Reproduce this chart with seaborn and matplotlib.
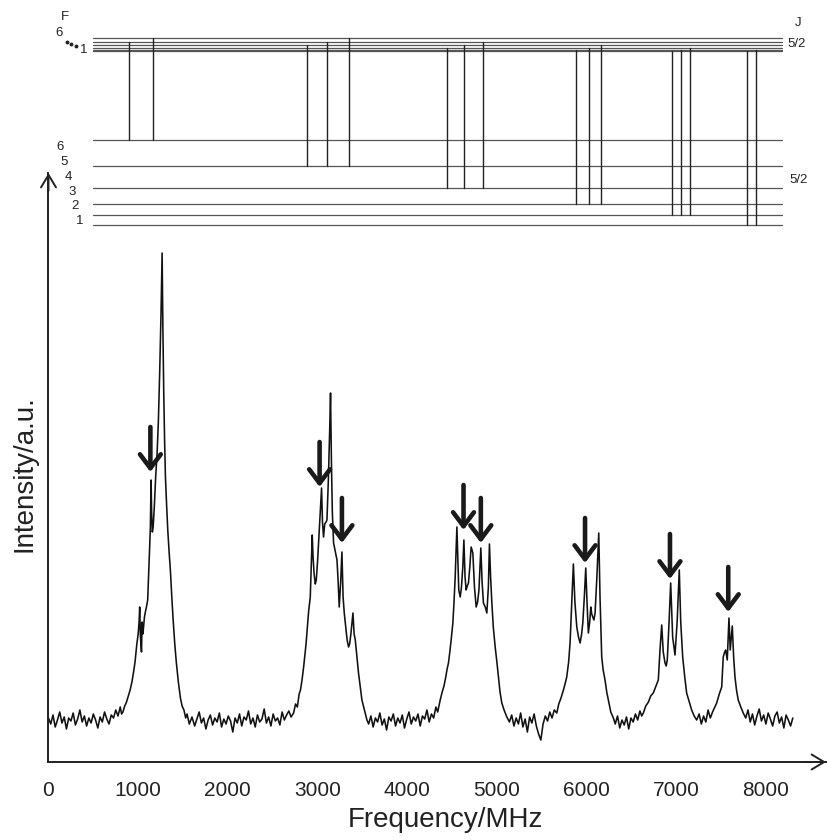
import numpy as np
import pandas as pd
import matplotlib
matplotlib.use('Agg')
import matplotlib.pyplot as plt
import seaborn as sns

sns.set_style('white')
plt.rcParams['font.family'] = ['Liberation Sans', 'DejaVu Sans']

# ---------------- spectrum ----------------
freq_base0 = [0, 25, 50, 75, 100, 125, 150, 175, 200, 225, 250, 275, 300, 325, 350, 375, 400, 425,
              450, 475, 500, 525, 550, 575, 600, 625, 650, 675, 700, 725, 750, 775, 800, 815]
int_base0 = [44, 38, 47, 35, 42, 50, 39, 45, 33, 44, 41, 49, 37, 43, 52, 40, 46, 36,
             44, 39, 48, 42, 34, 45, 40, 50, 43, 38, 47, 44, 52, 46, 55, 48]

freq_g1 = [830, 850, 870, 890, 910, 930, 947, 965, 985, 1000, 1010, 1017, 1024, 1030, 1037, 1044, 1052,
           1060, 1070, 1080, 1092, 1106, 1118, 1128, 1136, 1144, 1150, 1158, 1167, 1180, 1195, 1211,
           1225, 1240, 1255, 1267, 1276, 1285, 1295, 1304, 1318, 1330, 1345, 1359, 1375, 1390, 1408,
           1426, 1448, 1471, 1490, 1510, 1530, 1545]
int_g1 = [50, 56, 60, 66, 72, 80, 89, 100, 118, 128, 140, 155, 128, 118, 110, 140, 128,
          135, 145, 150, 155, 162, 190, 215, 235, 282, 250, 230, 235, 255, 285, 309,
          340, 390, 450, 509, 430, 370, 320, 285, 255, 232, 210, 192, 165, 142, 118,
          99, 80, 64, 56, 52, 44, 48]

freq_base1 = [1570, 1600, 1630, 1655, 1680, 1705, 1730, 1755, 1780, 1805, 1830, 1855, 1880, 1905, 1930,
              1955, 1980, 2005, 2030, 2055, 2080, 2105, 2130, 2155, 2180, 2205, 2230, 2255, 2280, 2305,
              2330, 2355, 2380, 2405, 2430, 2455, 2480, 2505, 2530, 2555, 2580, 2605, 2630, 2655, 2680, 2705]
int_base1 = [38, 45, 36, 43, 50, 39, 44, 33, 42, 47, 37, 44, 40, 49, 35,
             43, 38, 46, 41, 30, 44, 39, 48, 36, 45, 42, 51, 38, 44, 35,
             47, 40, 43, 53, 39, 45, 36, 48, 41, 44, 37, 50, 42, 47, 51, 45]

freq_g2 = [2733, 2755, 2775, 2795, 2810, 2827, 2845, 2860, 2872, 2882, 2900, 2919, 2930, 2941, 2950,
           2962, 2975, 2986, 3000, 3015, 3030, 3045, 3055, 3067, 3080, 3095, 3105, 3120, 3135, 3145,
           3155, 3165, 3179, 3195, 3217, 3230, 3242, 3258, 3272, 3285, 3298, 3315, 3330, 3346, 3358,
           3372, 3395, 3408, 3421, 3440, 3457, 3475, 3495, 3515, 3535, 3551]
int_g2 = [49, 58, 55, 68, 72, 82, 95, 108, 118, 129, 150, 165, 195, 227, 205,
          188, 178, 182, 200, 225, 250, 274, 240, 225, 238, 240, 242, 280, 330, 369,
          300, 250, 219, 212, 202, 180, 155, 180, 210, 165, 149, 135, 122, 115, 118,
          128, 149, 128, 122, 105, 89, 76, 62, 55, 48, 42]

freq_base2 = [3570, 3595, 3620, 3645, 3670, 3695, 3720, 3745, 3770, 3795, 3820, 3845, 3870, 3895, 3920,
              3945, 3970, 3995, 4020, 4045, 4070, 4095, 4120, 4145, 4170, 4195, 4220, 4245, 4270, 4295,
              4320, 4340]
int_base2 = [38, 46, 35, 44, 40, 49, 37, 43, 32, 45, 41, 48, 36, 44, 39,
             47, 34, 43, 50, 38, 45, 41, 48, 36, 46, 43, 52, 40, 48, 44,
             55, 50]

freq_g3 = [4368, 4390, 4410, 4430, 4445, 4460, 4475, 4490, 4509, 4522, 4535, 4545, 4554, 4565, 4575,
           4591, 4605, 4620, 4632, 4645, 4657, 4670, 4683, 4698, 4713, 4732, 4750, 4769, 4785, 4800,
           4821, 4835, 4850, 4870, 4888, 4905, 4917, 4930, 4944, 4960, 4981, 5000, 5017, 5035, 5055,
           5080, 5111]
int_g3 = [62, 70, 76, 85, 93, 99, 110, 122, 139, 160, 185, 210, 235, 200, 172,
          165, 175, 195, 222, 185, 172, 176, 179, 195, 215, 209, 175, 155, 160, 172,
          214, 180, 159, 155, 149, 175, 218, 185, 159, 135, 115, 100, 85, 70, 59,
          52, 45]

freq_base3 = [5140, 5165, 5190, 5215, 5240, 5265, 5290, 5315, 5340, 5365, 5390, 5415, 5440, 5465, 5490,
              5515, 5540, 5565, 5590, 5615, 5640]
int_base3 = [40, 47, 36, 44, 38, 49, 35, 43, 30, 45, 39, 48, 36, 28, 22,
             38, 46, 41, 50, 44, 52]

freq_g4 = [5668, 5690, 5715, 5742, 5760, 5779, 5800, 5816, 5835, 5853, 5870, 5891, 5910, 5928, 5945,
           5958, 5975, 5991, 6005, 6020, 6035, 6047, 6058, 6069, 6082, 6095, 6115, 6136, 6150, 6169,
           6185, 6206, 6225, 6243, 6270, 6299]
int_g4 = [49, 58, 64, 72, 78, 85, 100, 119, 160, 198, 160, 135, 125, 119, 128,
          139, 165, 194, 160, 129, 140, 155, 148, 145, 142, 149, 185, 229, 165, 105,
          92, 82, 70, 62, 50, 44]

freq_base4 = [6320, 6345, 6370, 6395, 6420, 6445, 6470, 6495, 6520, 6545, 6570, 6595, 6615]
int_base4 = [38, 46, 34, 42, 37, 45, 33, 44, 40, 48, 42, 51, 46]

freq_g5 = [6633, 6660, 6690, 6715, 6744, 6770, 6800, 6819, 6838, 6855, 6875, 6888, 6900, 6920, 6938,
           6960, 6986, 7010, 7034, 7050, 7072, 7095, 7116, 7145, 7172, 7200, 7228]
int_g5 = [49, 56, 60, 66, 69, 75, 82, 112, 137, 110, 99, 96, 102, 140, 179,
          125, 107, 140, 192, 140, 105, 85, 69, 60, 52, 46, 42]

freq_base5 = [7255, 7280, 7305, 7330, 7355, 7380, 7405, 7430]
int_base5 = [48, 38, 46, 40, 52, 44, 50, 55]

freq_g6 = [7451, 7480, 7507, 7524, 7540, 7551, 7569, 7588, 7602, 7625, 7640, 7655, 7672, 7691, 7720, 7747]
int_g6 = [59, 68, 75, 105, 110, 112, 102, 144, 112, 136, 105, 85, 72, 62, 55, 49]

freq_base6 = [7775, 7800, 7825, 7850, 7875, 7900, 7925, 7950, 7975, 8000, 8025, 8050, 8075, 8100,
              8125, 8150, 8175, 8200, 8225, 8250, 8275, 8300]
int_base6 = [44, 52, 40, 48, 37, 46, 53, 41, 47, 38, 49, 43, 36, 46,
             50, 39, 45, 34, 47, 42, 36, 44]

# arrows marking components
arrow_freq = [1136, 3023, 3272, 4628, 4821, 5983, 6930, 7580]
arrow_tip = [290, 275, 219, 232, 219, 199, 183, 150]

# ---------------- level diagram ----------------
lower_F = [1, 2, 3, 4, 5, 6]
lower_E = [0, 10, 21, 37, 59, 85]
upper_F = [1, 2, 3, 4, 5, 6]
upper_E = [174, 175.2, 177.1, 179.7, 183, 187]
trans_freq = [899, 1166, 2886, 3105, 3354, 4442, 4638, 4843, 5880, 6025, 6162, 6956, 7057, 7157, 7792, 7889]
trans_lower = [6, 6, 5, 5, 5, 4, 4, 4, 3, 3, 3, 2, 2, 2, 1, 1]
trans_upper = [5, 6, 4, 5, 6, 3, 4, 5, 2, 3, 4, 1, 2, 3, 1, 2]
level_span = (501, 8178)

# ---------------- figure ----------------
fig = plt.figure(figsize=(8.28, 8.40), dpi=100)
L, B, W, H = 48.5 / 828, 78 / 840, 777.5 / 828, 589 / 840
ax = fig.add_axes([L, B, W, H])

freq = np.concatenate([freq_base0, freq_g1, freq_base1, freq_g2, freq_base2, freq_g3, freq_base3,
                       freq_g4, freq_base4, freq_g5, freq_base5, freq_g6, freq_base6])
inten = np.concatenate([int_base0, int_g1, int_base1, int_g2, int_base2, int_g3, int_base3,
                        int_g4, int_base4, int_g5, int_base5, int_g6, int_base6])
df = pd.DataFrame({'freq': freq, 'intensity': inten})
sns.lineplot(data=df, x='freq', y='intensity', ax=ax, color='#111111', lw=1.15,
             sort=False, estimator=None)

ax.set_xlim(0, 8670)
ax.set_ylim(0, 589)
ax.set_xticks(np.arange(0, 8001, 1000))
ax.set_xticks(np.arange(500, 8600, 1000), minor=True)
ax.set_yticks([])
ax.tick_params(axis='x', which='major', direction='out', length=7, width=1.2, pad=7,
               labelsize=15, colors='#222222')
ax.tick_params(axis='x', which='minor', direction='out', length=3.5, width=1.2)
for s in ['top', 'right']:
    ax.spines[s].set_visible(False)
for s in ['left', 'bottom']:
    ax.spines[s].set_linewidth(1.4)
    ax.spines[s].set_color('#222222')
ax.set_xlabel('Frequency/MHz', fontsize=20, color='#222222')
ax.set_ylabel('Intensity/a.u.', fontsize=20, color='#222222')
ax.xaxis.set_label_coords(0.51, -0.076)
ax.yaxis.set_label_coords(-0.014, 0.489)
ax.patch.set_alpha(0)

# axis arrowheads
ax.annotate('', xy=(1.0, 0), xytext=(0.97, 0), xycoords='axes fraction',
            arrowprops=dict(arrowstyle='->,head_length=0.5,head_width=0.3', lw=1.4,
                            color='#222222', mutation_scale=18, shrinkA=0, shrinkB=0))
ax.annotate('', xy=(0, 1.0), xytext=(0, 0.97), xycoords='axes fraction',
            arrowprops=dict(arrowstyle='->,head_length=0.5,head_width=0.3', lw=1.4,
                            color='#222222', mutation_scale=18, shrinkA=0, shrinkB=0))

# peak arrows
for f, t in zip(arrow_freq, arrow_tip):
    ax.annotate('', xy=(f, t), xytext=(f, t + 45),
                arrowprops=dict(arrowstyle='->,head_length=1.0,head_width=0.75', lw=3.3,
                                color='#1a1a1a', mutation_scale=10, shrinkA=0, shrinkB=0))

# ---------------- level diagram axes ----------------
axt = fig.add_axes([L, 1 - 235 / 840, W, 235 / 840])
axt.set_xlim(0, 8670)
axt.set_ylim(-10, 225)
axt.axis('off')
axt.patch.set_alpha(0)

for e in lower_E:
    axt.plot(level_span, [e, e], color='#555555', lw=0.9)
for e in upper_E:
    axt.plot(level_span, [e, e], color='#555555', lw=0.9)
lE = dict(zip(lower_F, lower_E))
uE = dict(zip(upper_F, upper_E))
for f, lo, up in zip(trans_freq, trans_lower, trans_upper):
    axt.plot([f, f], [lE[lo], uE[up]], color='#222222', lw=1.0)

tkw = dict(ha='center', va='center', fontsize=9.5, color='#222222', clip_on=False)
axt.text(178, 208, 'F', **tkw)
axt.text(123, 192, '6', **tkw)
axt.text(390, 175, '1', **tkw)
axt.plot([208, 256, 304], [183, 181, 179], 'o', ms=1.8, color='#222222', clip_on=False)
for lab, (x, y) in zip(['6', '5', '4', '3', '2', '1'],
                       [(134, 78), (178, 63), (223, 48), (267, 33), (301, 19), (345, 4)]):
    axt.text(x, y, lab, **tkw)
axt.text(8357, 202, 'J', **tkw)
axt.text(8345, 181, '5/2', **tkw)
axt.text(8368, 45, '5/2', **tkw)

fig.savefig('out.png', dpi=100)
